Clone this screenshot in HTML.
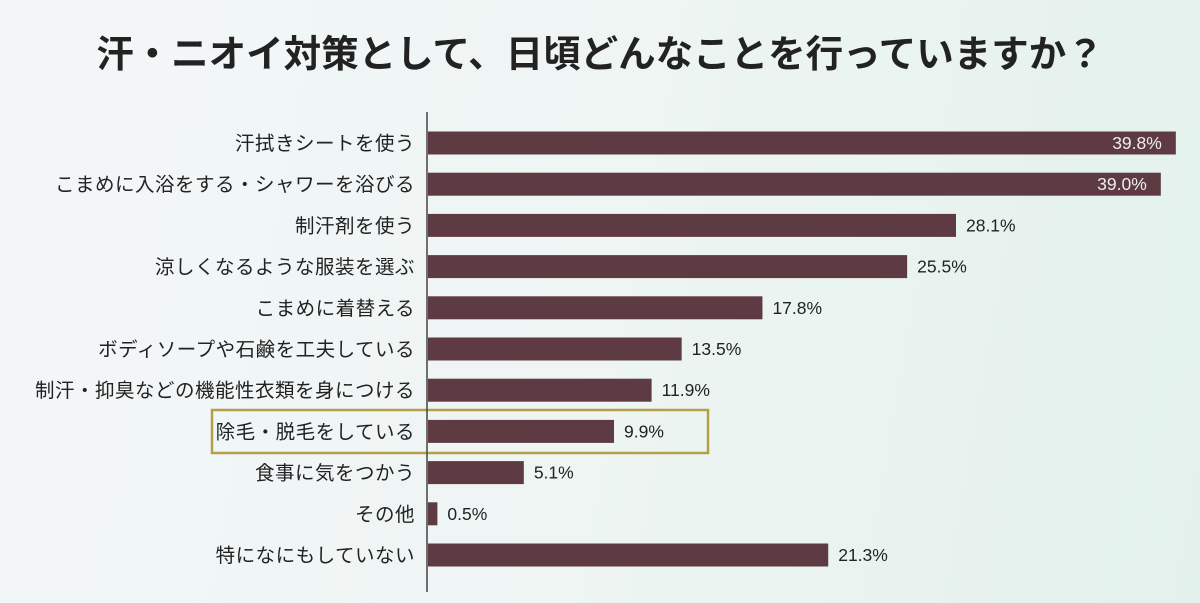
<!DOCTYPE html>
<html><head><meta charset="utf-8"><style>
html,body{margin:0;padding:0;width:1200px;height:603px;overflow:hidden}
body{background:linear-gradient(100deg,#f3f6f8 0%,#eef5f3 50%,#e3f1ec 100%);font-family:"Liberation Sans","Noto Sans CJK JP",sans-serif}
</style></head><body>
<svg id="chart" width="1200" height="603" xmlns="http://www.w3.org/2000/svg" style="position:absolute;left:0;top:0">
<text x="600" y="67" text-anchor="middle" font-size="37.5" font-weight="bold" fill="#222" font-family="Liberation Sans, Noto Sans CJK JP, sans-serif">汗・ニオイ対策として、日頃どんなことを行っていますか？</text>
<rect x="212" y="410" width="496" height="43" fill="none" stroke="#b5a04a" stroke-width="2.5"/>
<line x1="427" y1="112" x2="427" y2="592" stroke="#444" stroke-width="1.5"/>
<g id="bars"></g>
</svg>
<script>
const categories=["汗拭きシートを使う","こまめに入浴をする・シャワーを浴びる","制汗剤を使う","涼しくなるような服装を選ぶ","こまめに着替える","ボディソープや石鹸を工夫している","制汗・抑臭などの機能性衣類を身につける","除毛・脱毛をしている","食事に気をつかう","その他","特になにもしていない"];
const values=[39.8,39.0,28.1,25.5,17.8,13.5,11.9,9.9,5.1,0.5,21.3];
const valueLabels=["39.8%","39.0%","28.1%","25.5%","17.8%","13.5%","11.9%","9.9%","5.1%","0.5%","21.3%"];
const x0=428,pxPer=18.79,y0=143,pitch=41.2,bh=23;
const xScale=v=>x0+v*pxPer;
const yScale=i=>y0+i*pitch;
const g=document.getElementById('bars');
const NS="http://www.w3.org/2000/svg";
categories.forEach((c,i)=>{
  const cy=yScale(i);
  const lab=document.createElementNS(NS,'text');
  
  
  lab.setAttribute('x',415);lab.setAttribute('y',cy+7);
  lab.setAttribute('text-anchor','end');lab.setAttribute('font-size','19.5');lab.setAttribute('fill','#222');
  lab.setAttribute('letter-spacing','0.5');
  lab.textContent=c;g.appendChild(lab);
  const r=document.createElementNS(NS,'rect');
  
  
  const xe=xScale(values[i]);
  r.setAttribute('x',x0);r.setAttribute('y',cy-bh/2);r.setAttribute('width',xe-x0);r.setAttribute('height',bh);
  r.setAttribute('fill','#5e3b43');g.appendChild(r);
  const t=document.createElementNS(NS,'text');
  
  
  const inside=values[i]>35;
  t.setAttribute('x',inside?xe-14:xe+10);t.setAttribute('y',cy+6);
  t.setAttribute('text-anchor',inside?'end':'start');t.setAttribute('font-size','17.5');
  t.setAttribute('fill',inside?'#eee':'#222');
  t.textContent=valueLabels[i];g.appendChild(t);
});
</script>
</body></html>
